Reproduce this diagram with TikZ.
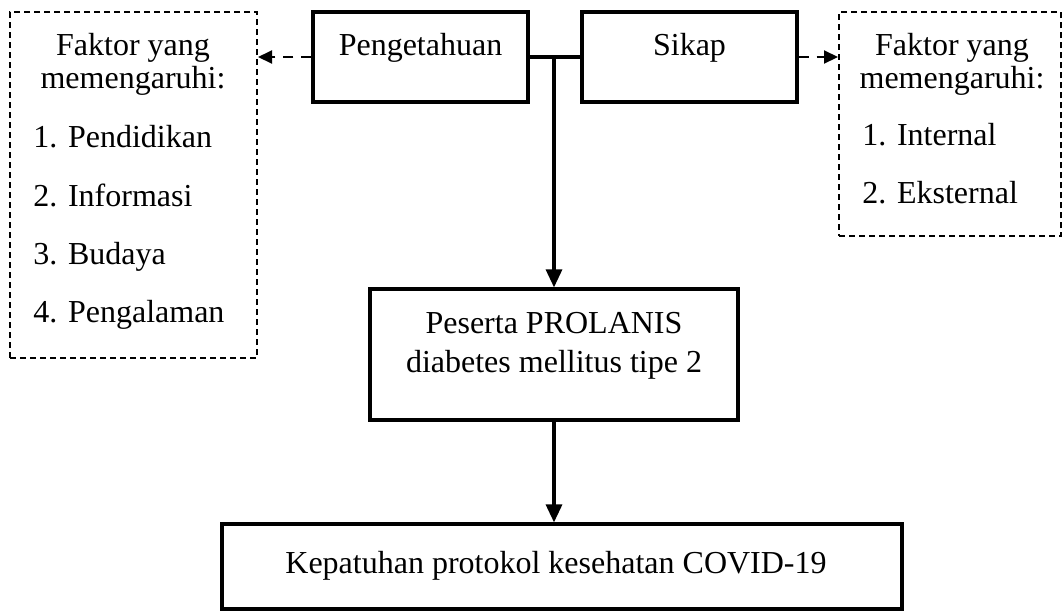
\documentclass[tikz,border=0pt]{standalone}
\usepackage{fontspec}
\setmainfont{Liberation Serif}
\usetikzlibrary{arrows.meta}

\begin{document}
\begin{tikzpicture}[x=0.5pt, y=-0.5pt,
    every node/.style={font=\fontsize{16}{19}\selectfont},
    kotak/.style={draw, line width=1.6pt, inner sep=0pt},
    kotakputus/.style={draw, line width=1pt, dash pattern=on 3pt off 2pt, inner sep=0pt},
    teks/.style={anchor=base, inner sep=0pt},
    teksdaftar/.style={anchor=base west, inner sep=0pt},
    garis/.style={line width=2pt},
    panah/.style={line width=1.6pt, -{Triangle[length=9pt, width=8pt]}},
    panahputus/.style={line width=1pt, dash pattern=on 5pt off 4pt, -{Triangle[length=7pt, width=6.5pt]}}]
    \useasboundingbox (0,0) rectangle (1063,612);

    % kotak utama
    \node[kotak, minimum width=107.5pt, minimum height=45pt] (peng) at (420.5,57) {};
    \node[kotak, minimum width=107.5pt, minimum height=45pt] (sikap) at (689.5,57) {};
    \node[kotak, minimum width=184pt, minimum height=65.5pt] (peserta) at (554,354.5) {};
    \node[kotak, minimum width=340pt, minimum height=42.5pt] (patuh) at (562,566.5) {};

    % kotak faktor
    \node[kotakputus, minimum width=123.5pt, minimum height=173pt] (faktorL) at (133.5,185) {};
    \node[kotakputus, minimum width=111pt, minimum height=112pt] (faktorR) at (950,124) {};

    % teks
    \node[teks] (tpeng) at (420.5,55) {Pengetahuan};
    \node[teks] (tsikap) at (689.5,55) {Sikap};
    \node[teks] (tpesertaA) at (554,333) {Peserta PROLANIS};
    \node[teks] (tpesertaB) at (554,372) {diabetes mellitus tipe 2};
    \node[teks] (tpatuh) at (556,573) {Kepatuhan protokol kesehatan COVID-19};

    \node[teks] (judulLA) at (133,55) {Faktor yang};
    \node[teks] (judulLB) at (133,88) {memengaruhi:};
    \node[teksdaftar] (fL1) at (33,147) {1. Pendidikan};
    \node[teksdaftar] (fL2) at (33,206) {2. Informasi};
    \node[teksdaftar] (fL3) at (33,264) {3. Budaya};
    \node[teksdaftar] (fL4) at (33,322) {4. Pengalaman};

    \node[teks] (judulRA) at (952,55) {Faktor yang};
    \node[teks] (judulRB) at (952,88) {memengaruhi:};
    \node[teksdaftar] (fR1) at (862,145) {1. Internal};
    \node[teksdaftar] (fR2) at (862,203) {2. Eksternal};

    % penghubung
    \coordinate (cabang) at (peng.east -| peserta.north);
    \coordinate (ujungB) at (patuh.north -| peserta.south);
    \coordinate (ujungL) at (faktorL.east |- peng.west);
    \coordinate (ujungR) at (faktorR.west |- sikap.east);

    \draw[garis] (peng.east) -- (sikap.west);
    \draw[panah] (cabang) -- (peserta.north);
    \draw[panah] (peserta.south) -- (ujungB);
    \draw[panahputus] (peng.west) -- (ujungL);
    \draw[panahputus] (sikap.east) -- (ujungR);
\end{tikzpicture}
\end{document}
